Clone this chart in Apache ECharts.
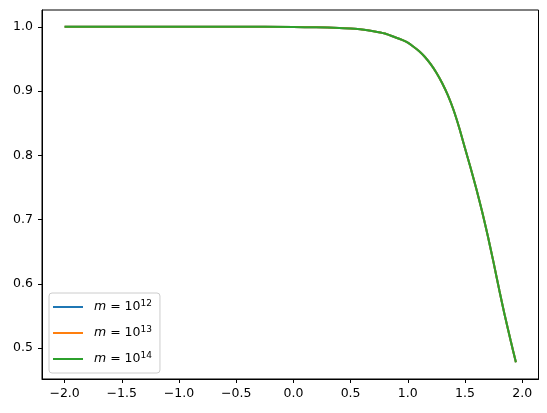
<!DOCTYPE html>
<html>
<head>
<meta charset="utf-8">
<script src="https://cdn.jsdelivr.net/npm/echarts@6/dist/echarts.min.js"></script>
<style>
html,body{margin:0;padding:0;background:#fff;}
#chart{width:547px;height:413px;}
</style>
</head>
<body>
<div id="chart"></div>
<script>
// x positions and curve values
const xValues = [-2.0, -1.5, -1.0, -0.5, 0.0, 0.2, 0.4, 0.5, 0.6, 0.7, 0.8, 0.9, 0.95, 1.0, 1.05, 1.1, 1.15, 1.2, 1.25, 1.3, 1.35, 1.4, 1.45, 1.5, 1.55, 1.6, 1.65, 1.7, 1.75, 1.8, 1.85, 1.9, 1.945];
const yM12 = [1.0, 1.0, 1.0, 1.0, 0.9996, 0.9992, 0.9982, 0.9972, 0.9958, 0.9932, 0.9895, 0.9830, 0.9795, 0.9752, 0.9690, 0.9620, 0.9530, 0.9418, 0.9285, 0.9125, 0.8935, 0.8705, 0.8425, 0.811, 0.780, 0.747, 0.712, 0.674, 0.633, 0.590, 0.549, 0.511, 0.478];
const yM13 = [1.0, 1.0, 1.0, 1.0, 0.9996, 0.9992, 0.9982, 0.9972, 0.9958, 0.9932, 0.9895, 0.9830, 0.9795, 0.9752, 0.9690, 0.9620, 0.9530, 0.9418, 0.9285, 0.9125, 0.8935, 0.8705, 0.8425, 0.811, 0.780, 0.747, 0.712, 0.674, 0.633, 0.590, 0.549, 0.511, 0.478];
const yM14 = [1.0, 1.0, 1.0, 1.0, 0.9996, 0.9992, 0.9982, 0.9972, 0.9958, 0.9932, 0.9895, 0.9830, 0.9795, 0.9752, 0.9690, 0.9620, 0.9530, 0.9418, 0.9285, 0.9125, 0.8935, 0.8705, 0.8425, 0.811, 0.780, 0.747, 0.712, 0.674, 0.633, 0.590, 0.549, 0.511, 0.478];
const seriesNames = ['m12', 'm13', 'm14'];
const exponents = ['12', '13', '14'];
const xTicks = [-2.0, -1.5, -1.0, -0.5, 0.0, 0.5, 1.0, 1.5, 2.0];
const yTicks = [0.5, 0.6, 0.7, 0.8, 0.9, 1.0];
const colors = ['#1f77b4', '#ff7f0e', '#2ca02c'];

const seriesData = [yM12, yM13, yM14];
const font = 'DejaVu Sans';

const chart = echarts.init(document.getElementById('chart'), null, {renderer: 'canvas'});

const series = seriesData.map((arr, i) => ({
  name: seriesNames[i],
  type: 'line',
  data: xValues.map((x, j) => [x, arr[j]]),
  smooth: 0.2,
  showSymbol: false,
  symbol: 'none',
  lineStyle: {color: colors[i], width: 2},
  itemStyle: {color: colors[i]},
  z: 2 + i,
  animation: false
}));

const axisCommon = {
  axisLine: {show: true, onZero: false, lineStyle: {color: '#000', width: 1}},
  axisTick: {show: true, inside: false, length: 4, lineStyle: {color: '#000', width: 1}},
  splitLine: {show: false},
  axisLabel: {color: '#000', fontFamily: font, fontSize: 12.5}
};

chart.setOption({
  backgroundColor: '#fff',
  animation: false,
  grid: {left: 42, right: 8.5, top: 10, bottom: 34, show: true, borderColor: '#000', borderWidth: 1, containLabel: false},
  xAxis: {
    type: 'value',
    min: -2.1975,
    max: 2.1425,
    ...axisCommon,
    axisTick: {...axisCommon.axisTick, customValues: xTicks},
    axisLabel: {...axisCommon.axisLabel, margin: 8, customValues: xTicks,
      formatter: v => (v < 0 ? '\u2212' : '') + Math.abs(v).toFixed(1)}
  },
  yAxis: {
    type: 'value',
    min: 0.4519,
    max: 1.0261,
    ...axisCommon,
    axisTick: {...axisCommon.axisTick, customValues: yTicks},
    axisLabel: {...axisCommon.axisLabel, margin: 9, customValues: yTicks,
      formatter: v => v.toFixed(1)}
  },
  legend: {
    orient: 'vertical',
    left: 49,
    top: 293,
    data: seriesNames,
    icon: 'rect',
    itemWidth: 30,
    itemHeight: 2,
    itemGap: 8,
    padding: [5, 8, 5, 4],
    backgroundColor: 'rgba(255,255,255,0.8)',
    borderColor: '#cccccc',
    borderWidth: 1,
    borderRadius: 3,
    formatter: name => {
      const k = seriesNames.indexOf(name);
      return '{i|m}{n| = 10}{s|' + exponents[k] + '}';
    },
    textStyle: {
      color: '#000',
      fontFamily: font,
      fontSize: 12,
      lineHeight: 18,
      padding: [0, 0, 0, 6],
      rich: {
        i: {fontFamily: font, fontStyle: 'italic', fontSize: 12.5, color: '#000', lineHeight: 18},
        n: {fontFamily: font, fontSize: 12.5, color: '#000', lineHeight: 18},
        s: {fontFamily: font, fontSize: 9, color: '#000', lineHeight: 18, padding: [0, 0, 7, 0]}
      }
    }
  },
  series: series
});
</script>
</body>
</html>
